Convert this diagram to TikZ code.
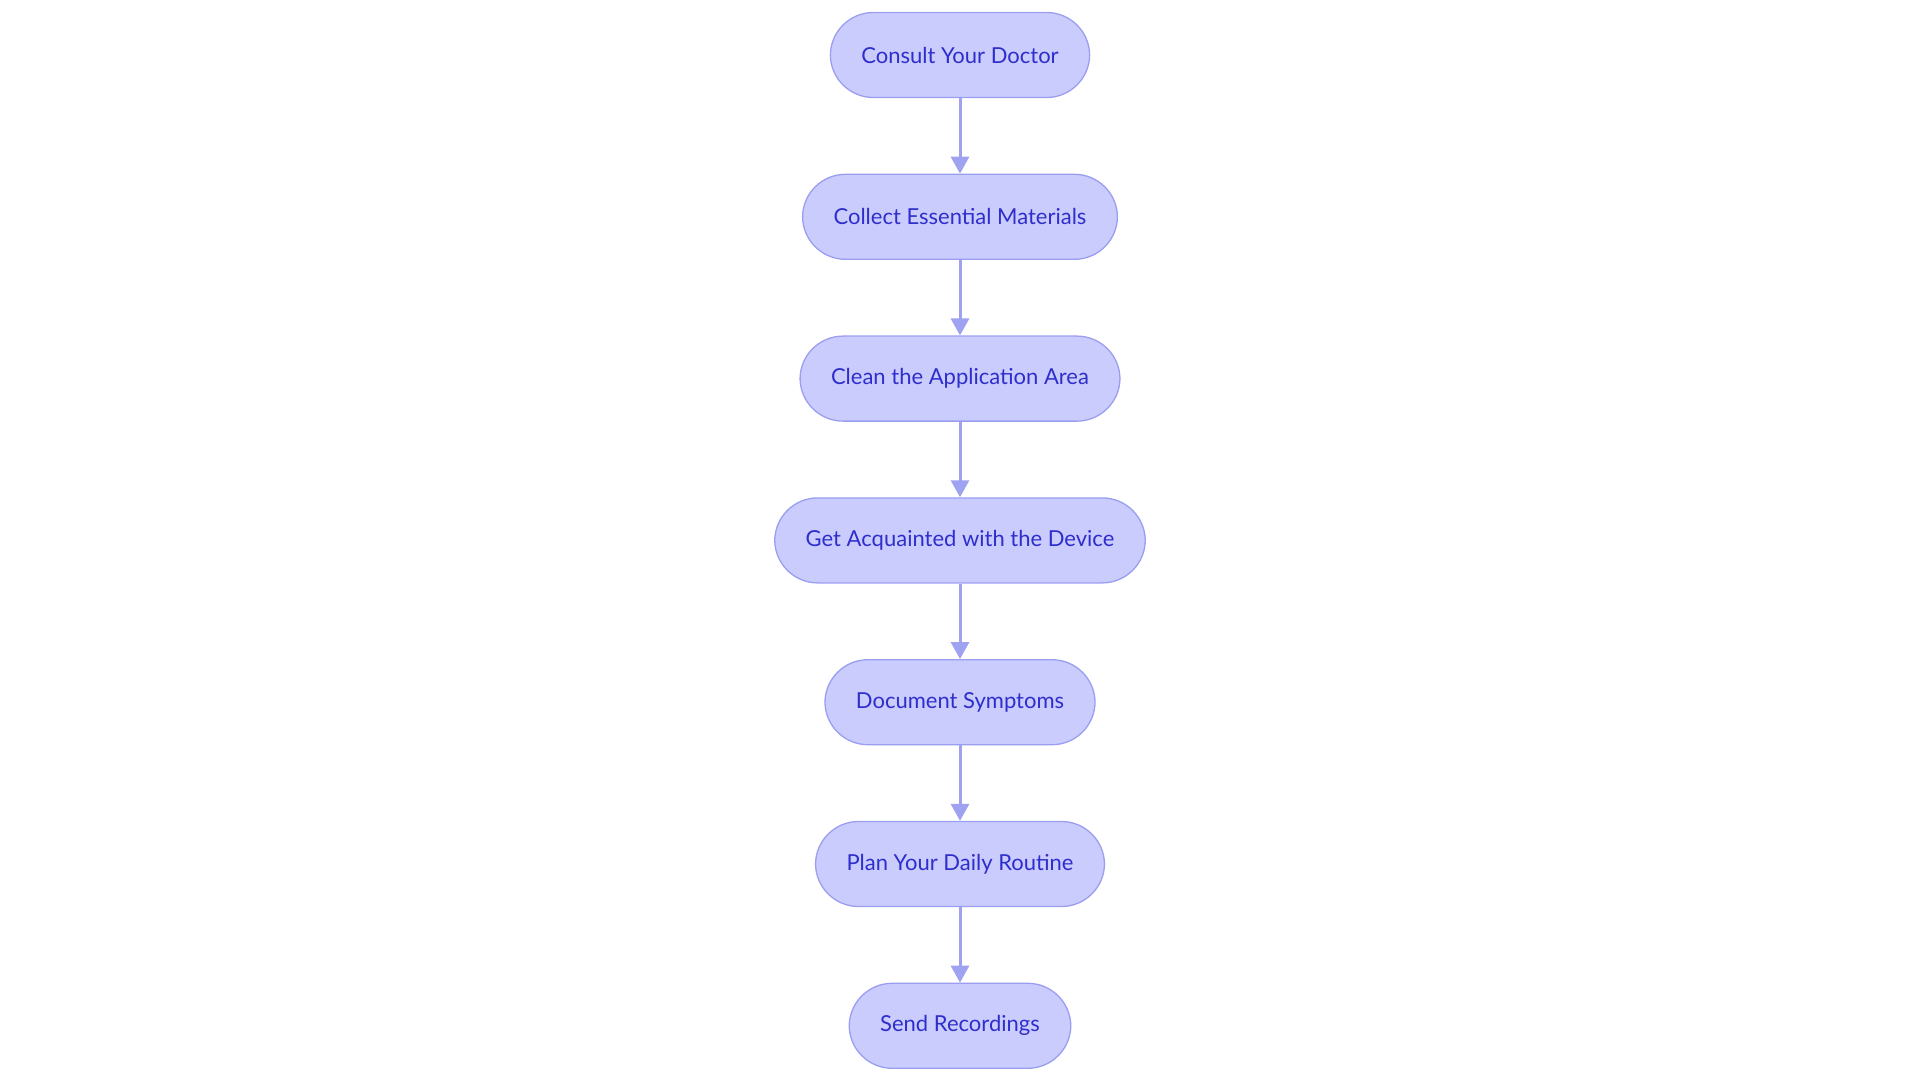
\documentclass[tikz,border=0pt]{standalone}
\usepackage{fontspec}
\setmainfont{Lato}
\usetikzlibrary{positioning,arrows.meta}
\definecolor{boxfill}{RGB}{203,204,254}
\definecolor{boxline}{RGB}{154,158,240}
\definecolor{boxtext}{RGB}{46,46,204}
\definecolor{arrowcol}{RGB}{158,162,240}
\begin{document}
\begin{tikzpicture}[font=\fontsize{22}{26}\selectfont, line join=round, >={Triangle[length=17pt,width=18pt]},
	stepbox/.style={draw=boxline, line width=1.3pt, fill=boxfill, text=boxtext, rounded corners=43pt, minimum height=85pt, inner xsep=31pt},
	link/.style={->, draw=arrowcol, line width=3pt}]
	\useasboundingbox (0,0) rectangle (1920pt,-1083pt);
	\node[stepbox] (doctor) at (960pt,-55pt) {Consult Your Doctor};
	\node[stepbox, below=75.5pt of doctor] (materials) {Collect Essential Materials};
	\node[stepbox, below=75.5pt of materials] (clean) {Clean the Application Area};
	\node[stepbox, below=75.5pt of clean] (device) {Get Acquainted with the Device};
	\node[stepbox, below=75.5pt of device] (symptoms) {Document Symptoms};
	\node[stepbox, below=75.5pt of symptoms] (routine) {Plan Your Daily Routine};
	\node[stepbox, below=75.5pt of routine] (send) {Send Recordings};
	\foreach \a/\b in {doctor/materials, materials/clean, clean/device, device/symptoms, symptoms/routine, routine/send}
		\draw[link] (\a) -- (\b);
\end{tikzpicture}
\end{document}
